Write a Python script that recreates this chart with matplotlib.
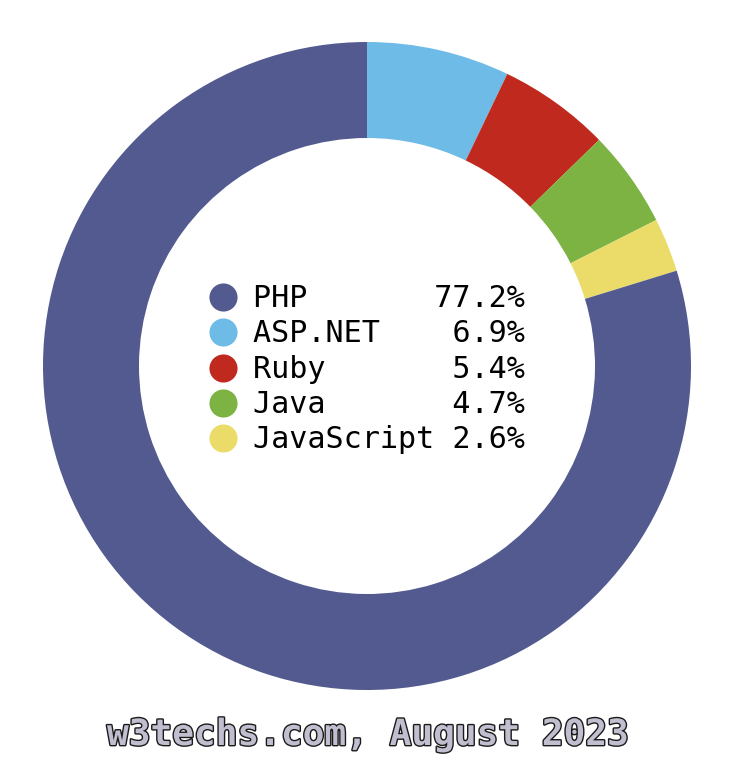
import matplotlib
matplotlib.use("Agg")
import matplotlib.pyplot as plt
import matplotlib.patheffects as pe

# Server-side language share (w3techs, August 2023)
languages = ["PHP", "ASP.NET", "Ruby", "Java", "JavaScript"]
shares = [77.2, 6.9, 5.4, 4.7, 2.6]
colors = ["#525a8f", "#6fbbe7", "#c0291e", "#7cb342", "#ebdc6a"]
footer = "w3techs.com, August 2023"

W, H = 735, 767
fig = plt.figure(figsize=(W / 100, H / 100), dpi=100)
ax = fig.add_axes([0, 0, 1, 1])

# ring starts at 12 o'clock with ASP.NET, PHP fills the rest
order = list(range(1, len(languages))) + [0]
cx, cy, r = 367, H - 366, 324
ax.pie([shares[i] for i in order], colors=[colors[i] for i in order],
       startangle=90, counterclock=False, center=(cx, cy), radius=r,
       wedgeprops=dict(width=96, linewidth=0), frame=True)
ax.set_xlim(0, W)
ax.set_ylim(0, H)
ax.set_aspect("equal")
ax.axis("off")

# legend in the hole
mono = "DejaVu Sans Mono"
top, step = 297, 35.3
for k, (name, val, c) in enumerate(zip(languages, shares, colors)):
    y = H - (top + k * step)
    ax.scatter([223], [y], s=410, color=c, linewidths=0, zorder=3)
    ax.text(253, y - 10, f"{name:<10}{val:>4.1f}%", family=mono,
            fontsize=21.7, va="baseline", ha="left", color="black")

t = ax.text(368, H - 745, footer, family=mono, fontsize=26, weight="bold",
            ha="center", va="baseline", color="#c1bfcf")
t.set_path_effects([pe.Stroke(linewidth=2, foreground="#1a1a1a"), pe.Normal()])

fig.savefig("out.png", dpi=100, facecolor="white")
